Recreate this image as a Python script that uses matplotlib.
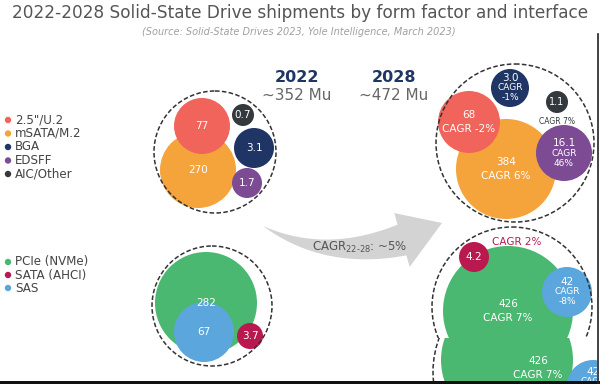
import numpy as np
import matplotlib.pyplot as plt
from matplotlib.patches import Circle, Polygon, Rectangle

# data
years = ['2022', '2028']
totals = ['~352 Mu', '~472 Mu']
total_cagr = '~5%'

form_factors = ['2.5"/U.2', 'mSATA/M.2', 'BGA', 'EDSFF', 'AIC/Other']
ff_colors = ['#f0645c', '#f5a33b', '#1f3565', '#7c4b93', '#34393d']
ff_2022 = ['77', '270', '3.1', '1.7', '0.7']
ff_2028 = ['68', '384', '3.0', '16.1', '1.1']
ff_cagr = ['-2%', '6%', '-1%', '46%', '7%']

interfaces = ['PCIe (NVMe)', 'SATA (AHCI)', 'SAS']
if_colors = ['#4ab870', '#b9194f', '#5ba6dc']
if_2022 = ['282', '3.7', '67']
if_2028 = ['426', '4.2', '42']
if_cagr = ['7%', '2%', '-8%']

# layout (pixel space): centre x, centre y, radius, draw order
ff_pos_2022 = [(202, 126, 28, 2), (198, 170, 38, 1), (254, 148, 20, 2), (247, 183, 15, 2), (243, 115, 11, 2)]
ff_pos_2028 = [(469, 122, 31, 2), (506, 169, 50, 1), (510, 88, 19, 2), (564, 153, 28, 2), (557, 102, 11, 2)]
ff_style_2028 = ['inline', 'inline', 'stack', 'stack', 'below']
if_pos_2022 = [(206, 303, 51, 1), (250, 336, 13, 2), (204, 332, 30, 2)]
if_pos_2028 = [(508, 311, 65, 1), (474, 257, 15, 2), (567, 292, 25, 2)]
if_style_2028 = ['inline', 'above', 'stack']

FONT = 'DejaVu Sans'

fig = plt.figure(figsize=(6, 3.84), dpi=100)
ax = fig.add_axes([0, 0, 1, 1])
ax.set_xlim(0, 600)
ax.set_ylim(384, 0)
ax.axis('off')


def bubble(x, y, r, color, z, clip=None):
    c = Circle((x, y), r, color=color, lw=0, zorder=z)
    ax.add_patch(c)
    if clip is not None:
        c.set_clip_path(clip)
    return c


def label(x, y, value, cagr, style, color, clip=None):
    kw = dict(ha='center', va='center', color='white', family=FONT, zorder=5)
    ts = []
    if style == 'plain':
        ts.append(ax.text(x, y, value, fontsize=7.5, **kw))
    elif style == 'inline':
        ts.append(ax.text(x, y - 7, value, fontsize=7.5, **kw))
        ts.append(ax.text(x, y + 7, 'CAGR ' + cagr, fontsize=7.5, **kw))
    elif style == 'stack':
        ts.append(ax.text(x, y - 10, value, fontsize=7.5, **kw))
        ts.append(ax.text(x, y, 'CAGR', fontsize=6.5, **kw))
        ts.append(ax.text(x, y + 10, cagr, fontsize=6.5, **kw))
    elif style == 'below':
        ts.append(ax.text(x, y, value, fontsize=7, **kw))
        kw['color'] = color
        ts.append(ax.text(x, y + 19, 'CAGR ' + cagr, fontsize=5.5, **kw))
    elif style == 'above':
        ts.append(ax.text(x, y, value, fontsize=7.5, **kw))
        kw['color'] = color
        ts.append(ax.text(x + 43, y - 15, 'CAGR ' + cagr, fontsize=7.5, **kw))
    if clip is not None:
        for t in ts:
            t.set_clip_path(clip)


def ring(x, y, r, clip=None):
    c = Circle((x, y), r, fill=False, ec='#333333', lw=1.1, ls=(0, (3, 1.5)), zorder=6)
    ax.add_patch(c)
    if clip is not None:
        c.set_clip_path(clip)


def curved_arrow(p0, pc, p1, tip, w_end, head_w):
    # tapered band along a quadratic curve, then a triangular head
    p0, pc, p1, tip = map(np.asarray, (p0, pc, p1, tip))
    t = np.linspace(0, 1, 40)[:, None]
    pts = (1 - t) ** 2 * p0 + 2 * (1 - t) * t * pc + t ** 2 * p1
    d = 2 * (1 - t) * (pc - p0) + 2 * t * (p1 - pc)
    n = np.column_stack([-d[:, 1], d[:, 0]]) / np.hypot(d[:, 0], d[:, 1])[:, None]
    w = (t * w_end / 2)
    upper = pts + n * w
    lower = pts - n * w
    nh = n[-1] * head_w / 2
    outline = np.vstack([upper, [p1 + nh], [tip], [p1 - nh], lower[::-1]])
    ax.add_patch(Polygon(outline, closed=True, color='#d3d3d3', lw=0, zorder=1))


# title
ax.text(300, 13, '2022-2028 Solid-State Drive shipments by form factor and interface',
        ha='center', va='center', fontsize=12.2, color='#555555', family=FONT)
ax.text(299, 32, '(Source: Solid-State Drives 2023, Yole Intelligence, March 2023)',
        ha='center', va='center', fontsize=7, color='#a0a0a0', style='italic', family=FONT)

# year headers
for xh, yr, tot in zip([297, 394], years, totals):
    ax.text(xh, 77, yr, ha='center', va='center', fontsize=11.5, fontweight='bold',
            color='#1f3565', family=FONT)
    ax.text(xh, 95, tot, ha='center', va='center', fontsize=11, color='#666666', family=FONT)

# legends
for i, (name, col) in enumerate(zip(form_factors, ff_colors)):
    yy = 120 + i * 13.5
    ax.add_patch(Circle((8, yy), 3.2, color=col, lw=0))
    ax.text(15, yy, name, ha='left', va='center', fontsize=8.6, color='#444444', family=FONT)
for i, (name, col) in enumerate(zip(interfaces, if_colors)):
    yy = 262 + i * 13
    ax.add_patch(Circle((8, yy), 3.2, color=col, lw=0))
    ax.text(15, yy, name, ha='left', va='center', fontsize=8.6, color='#444444', family=FONT)

# 2022 form factor
ring(215, 152, 61)
for (x, y, r, z), col, v in zip(ff_pos_2022, ff_colors, ff_2022):
    bubble(x, y, r, col, z)
    label(x, y, v, '', 'plain', col)

# 2022 interface
ring(212, 306, 60)
for (x, y, r, z), col, v in zip(if_pos_2022, if_colors, if_2022):
    bubble(x, y, r, col, z)
    label(x, y, v, '', 'plain', col)

# 2028 form factor
ring(515, 143, 79)
for (x, y, r, z), col, v, c, s in zip(ff_pos_2028, ff_colors, ff_2028, ff_cagr, ff_style_2028):
    bubble(x, y, r, col, z)
    label(x, y, v, c, s, col)

# 2028 interface, top part of the (glitched) screenshot
top = Rectangle((400, 200), 200, 138, transform=ax.transData)
ring(512, 307, 80, clip=top)
for (x, y, r, z), col, v, c, s in zip(if_pos_2028, if_colors, if_2028, if_cagr, if_style_2028):
    bubble(x, y, r, col, z, clip=top)
    label(x, y, v, c, s, col, clip=top)

# repeated lower strip of the same group
low = Rectangle((400, 338), 197, 43, transform=ax.transData)
ring(530, 372, 97, clip=low)
bubble(507, 360, 66, if_colors[0], 1, clip=low)
label(538, 368, if_2028[0], if_cagr[0], 'inline', if_colors[0], clip=low)
bubble(593, 386, 26, if_colors[2], 2, clip=low)
label(593, 382, if_2028[2], if_cagr[2], 'stack', if_colors[2], clip=low)

# growth arrow
curved_arrow((263, 226), (325, 262), (402, 240), (442, 223), 32, 56)
ax.text(360, 247, r'CAGR$_{22\text{-}28}$: ' + total_cagr, ha='center', va='center',
        fontsize=8.5, color='#555555', family=FONT, zorder=2)

# frame edges from the screenshot
ax.add_patch(Rectangle((0, 381), 600, 3, color='#111111', lw=0, zorder=10))
ax.plot([597.5, 597.5], [34, 384], color='#222222', lw=1.2, zorder=10)

fig.savefig('out.png', dpi=100)
